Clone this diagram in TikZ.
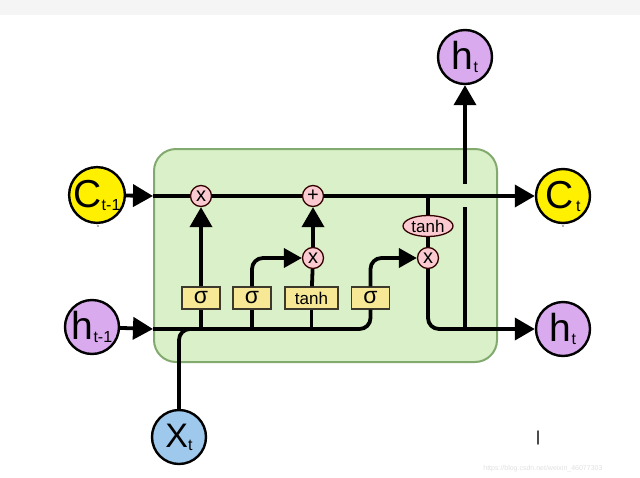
\documentclass[tikz,border=0pt]{standalone}
\usepackage{fontspec}
\setmainfont{Liberation Sans}
\usetikzlibrary{arrows.meta,shapes.geometric}
\definecolor{cellfill}{RGB}{218,240,200}
\definecolor{celldraw}{RGB}{130,170,110}
\definecolor{cyel}{RGB}{255,240,0}
\definecolor{hpur}{RGB}{218,170,238}
\definecolor{xblue}{RGB}{158,200,236}
\definecolor{opink}{RGB}{250,202,208}
\definecolor{gatefill}{RGB}{247,232,150}
\definecolor{topband}{RGB}{245,245,245}
\tikzset{
  wire/.style={line width=3.8pt, draw=black},
  arr/.style={wire, -{Triangle[length=20pt,width=22pt]}},
  sarr/.style={wire, -{Triangle[length=18pt,width=19pt]}},
  bigcirc/.style={circle, minimum size=54pt, inner sep=0pt, line width=2.4pt, draw=black},
  op/.style={circle, minimum size=21pt, inner sep=0pt, line width=1.3pt, draw=black!80!red, fill=opink, font=\fontsize{20}{20}\selectfont},
  gate/.style={rectangle, minimum height=22pt, minimum width=38pt, inner sep=0pt, line width=1.2pt, draw=black!75!olive, fill=gatefill, font=\fontsize{23}{23}\selectfont},
}
\newcommand{\biglab}[2]{{\fontsize{39}{39}\selectfont #1}\raisebox{-3pt}{\fontsize{16}{16}\selectfont #2}}
\begin{document}
\begin{tikzpicture}[x=1pt,y=-1pt]
\useasboundingbox (0,0) rectangle (640,477);
\fill[topband] (0,0) rectangle (640,15);
% cell
\draw[fill=cellfill, draw=celldraw, line width=2pt, rounded corners=22pt] (154,149) rectangle (497,362);
% outer circles
\node[bigcirc, fill=cyel] (ct1) at (97,195) {\biglab{C}{t-1}};
\node[bigcirc, fill=cyel] (ct) at (563,196) {\biglab{C}{\,t}};
\node[bigcirc, fill=hpur] (htop) at (465,57) {\biglab{h}{t}};
\node[bigcirc, fill=hpur] (ht1) at (92,327) {\biglab{h}{t-1}};
\node[bigcirc, fill=hpur] (hr) at (563,329) {\biglab{h}{t}};
\node[bigcirc, fill=xblue] (xt) at (179,437) {{\fontsize{34}{34}\selectfont X}\raisebox{-3pt}{\fontsize{16}{16}\selectfont t}};
% gates
\node[gate] (s1) at (201,298) {σ};
\node[gate] (s2) at (252,298) {σ};
\node[gate, minimum width=53pt, font=\fontsize{17}{17}\selectfont] (th) at (311.5,298) {tanh};
\node[gate] (s3) at (370.5,298) {σ};
% ops
\node[op] (m1) at (201,196) {x};
\node[op] (p1) at (313,196) {+};
\node[op] (m2) at (313,258) {x};
\node[op] (m3) at (428,258) {x};
\node[ellipse, minimum width=50pt, minimum height=21pt, inner sep=0pt, line width=1.3pt, draw=black!80!red, fill=opink, font=\fontsize{17}{17}\selectfont] (tn) at (428,226) {tanh};
% coordinates
\coordinate (cin) at (153,196);
\coordinate (hin) at (153,329);
\coordinate (br) at (428,196);
\coordinate (vb) at (465,329);
\coordinate (vg1) at (465,207);
\coordinate (vg2) at (465,184);
% cell state line
\draw[arr] (ct1) -- (cin);
\draw[wire] (cin) -- (m1) -- (p1);
\draw[arr] (p1) -- (ct);
% hidden input
\draw[arr] (ht1) -- (hin);
\draw[wire, rounded corners=11pt] (hin) -| (s3.south);
\draw[wire, rounded corners=11pt] (xt.north) |- (220,329);
\draw[wire] (201,329) -- (s1.south);
\draw[wire] (252,329) -- (s2.south);
\draw[wire] (311.5,329) -- (th.south);
% gates up
\draw[arr] (s1) -- (m1);
\draw[sarr, rounded corners=11pt] (s2.north) |- (m2);
\draw[wire] (th) -- (m2);
\draw[arr] (m2) -- (p1);
\draw[sarr, rounded corners=11pt] (s3.north) |- (m3);
% output path
\draw[wire] (br) -- (tn) -- (m3);
\draw[arr, rounded corners=11pt] (m3) |- (hr);
\draw[wire] (vb) -- (vg1);
\draw[arr] (vg2) -- (htop);
% small marks
\fill[black!60] (98,226) circle (0.8pt);
\fill[black!60] (563,226) circle (0.8pt);
\draw[line width=1.8pt, black!70, line cap=round] (538,431) -- (538,444);
\node[text=black!12, font=\fontsize{7}{7}\selectfont, anchor=east] (wm) at (606,469) {https://blog.csdn.net/weixin\_46077303};
\end{tikzpicture}
\end{document}
